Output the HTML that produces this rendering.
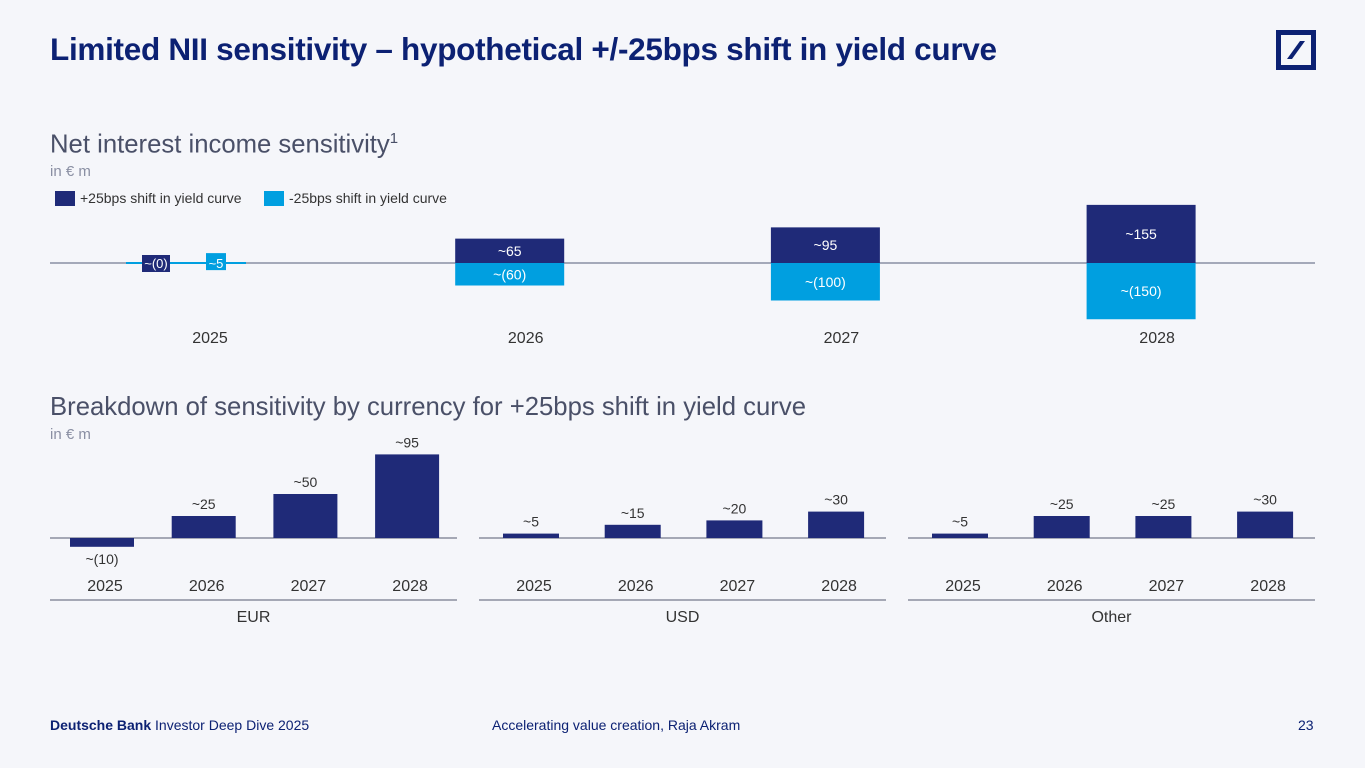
<!DOCTYPE html>
<html><head><meta charset="utf-8"><style>
body{margin:0;width:1365px;height:768px;background:#f5f6fa;font-family:"Liberation Sans",sans-serif;overflow:hidden;position:relative;color:#0b1a4a}
.t{position:absolute;white-space:nowrap}
</style></head><body>
<div class="t" style="left:50px;top:31px;font-size:31.5px;font-weight:bold;color:#0c2173;letter-spacing:-0.3px">Limited NII sensitivity – hypothetical +/-25bps shift in yield curve</div>
<svg style="position:absolute;left:1276px;top:30px" width="40" height="40"><rect x="2.5" y="2.5" width="35" height="35" fill="none" stroke="#0c2173" stroke-width="5"/><polygon points="11,29 16,29 29,11 24,11" fill="#0c2173"/></svg>
<div class="t" style="left:50px;top:130px;font-size:25.7px;color:#4a5068">Net interest income sensitivity<sup style="font-size:15px">1</sup></div>
<div class="t" style="left:50px;top:163px;font-size:15px;color:#8a8fa3">in € m</div>
<div class="t" style="left:55px;top:190px;font-size:14px;color:#333"><span style="display:inline-block;width:20px;height:15px;background:#1f2a78;vertical-align:-3px;margin-right:5px"></span>+25bps shift in yield curve</div>
<div class="t" style="left:264px;top:190px;font-size:14px;color:#333"><span style="display:inline-block;width:20px;height:15px;background:#009fe0;vertical-align:-3px;margin-right:5px"></span>-25bps shift in yield curve</div>
<svg id="top" style="position:absolute;left:0;top:0" width="1365" height="768"></svg>
<div class="t" style="left:50px;top:393px;font-size:25.7px;color:#4a5068">Breakdown of sensitivity by currency for +25bps shift in yield curve</div>
<div class="t" style="left:50px;top:426px;font-size:15px;color:#8a8fa3">in € m</div>
<div class="t" style="left:50px;top:717px;font-size:14px;color:#0c2173"><b>Deutsche Bank</b> Investor Deep Dive 2025</div>
<div class="t" style="left:492px;top:717px;font-size:14px;color:#0c2173">Accelerating value creation, Raja Akram</div>
<div class="t" style="left:1298px;top:717px;font-size:14px;color:#0c2173">23</div>
<script>
const years=["2025","2026","2027","2028"];
const plusVals=[0,65,95,155];
const minusVals=[5,-60,-100,-150];
const plusLabels=["~(0)","~65","~95","~155"];
const minusLabels=["~5","~(60)","~(100)","~(150)"];
const currencies=["EUR","USD","Other"];
const eurVals=[-10,25,50,95];
const usdVals=[5,15,20,30];
const otherVals=[5,25,25,30];
const eurLabels=["~(10)","~25","~50","~95"];
const usdLabels=["~5","~15","~20","~30"];
const otherLabels=["~5","~25","~25","~30"];
const NS="http://www.w3.org/2000/svg";
const svg=document.getElementById('top');
function mk(tag,a,txt){const e=document.createElementNS(NS,tag);for(const k in a)e.setAttribute(k,a[k]);if(txt!=null)e.textContent=txt;svg.appendChild(e);return e;}
const base=263, k=0.375;
const xc=i=>210+i*315.7;
const ay=v=>base-v*k;
let ax=mk('line',{x1:50,x2:1315,y1:base,y2:base,stroke:'#8a8fa3','stroke-width':1.5});

years.forEach((y,i)=>{
  const c=xc(i);
  let t=mk('text',{x:c,y:343,'text-anchor':'middle','font-size':16,fill:'#333'},y);
  
  const pv=plusVals[i],mv=minusVals[i];
  if(Math.abs(pv)*k<10){
    let l=mk('line',{x1:c-84,x2:c+36,y1:base,y2:base,stroke:'#009fe0','stroke-width':2});
    
    let r=mk('rect',{x:c-68,y:base-8-pv*k,width:28,height:17,fill:'#1f2a78'});
    
    let tt=mk('text',{x:c-54,y:base+5,'text-anchor':'middle','font-size':13,fill:'#fff'},plusLabels[i]);
    
    let r2=mk('rect',{x:c-4,y:base-8-mv*k,width:20,height:17,fill:'#009fe0'});
    
    let t2=mk('text',{x:c+6,y:base+5,'text-anchor':'middle','font-size':13,fill:'#fff'},minusLabels[i]);
    
    return;
  }
  const w=109, bc=c-16;
  let r=mk('rect',{x:bc-w/2,y:Math.min(ay(pv),base),width:w,height:Math.abs(pv)*k,fill:'#1f2a78'});
  
  let tt=mk('text',{x:bc,y:(ay(pv)+base)/2+5,'text-anchor':'middle','font-size':14,fill:'#fff'},plusLabels[i]);
  
  let r2=mk('rect',{x:bc-w/2,y:Math.min(ay(mv),base),width:w,height:Math.abs(mv)*k,fill:'#009fe0'});
  
  let t2=mk('text',{x:bc,y:(ay(mv)+base)/2+5,'text-anchor':'middle','font-size':14,fill:'#fff'},minusLabels[i]);
  
});
const groups=[[eurVals,eurLabels,50,64],[usdVals,usdLabels,479,56],[otherVals,otherLabels,908,56]];
const b2=538, k2=0.88;
groups.forEach((g,gi)=>{
  const [vals,labs,x0,bw]=g;
  const left=x0, right=x0+407;
  let l=mk('line',{x1:left,x2:right,y1:b2,y2:b2,stroke:'#555a70','stroke-width':1});
  
  let l2=mk('line',{x1:left,x2:right,y1:600,y2:600,stroke:'#555a70','stroke-width':1});
  
  let ct=mk('text',{x:(left+right)/2,y:622,'text-anchor':'middle','font-size':16,fill:'#333'},currencies[gi]);
  
  vals.forEach((v,i)=>{
    const c=left+52+i*101.7;
    const h=Math.abs(v)*k2;
    let r=mk('rect',{x:c-bw/2,y:v>=0?b2-h:b2,width:bw,height:h,fill:'#1f2a78'});
    
    let t=mk('text',{x:c,y:v>=0?b2-h-7:b2+h+17,'text-anchor':'middle','font-size':14,fill:'#333'},labs[i]);
    
    let yt=mk('text',{x:c+3,y:591,'text-anchor':'middle','font-size':16,fill:'#333'},years[i]);
    
  });
});
</script>
</body></html>
